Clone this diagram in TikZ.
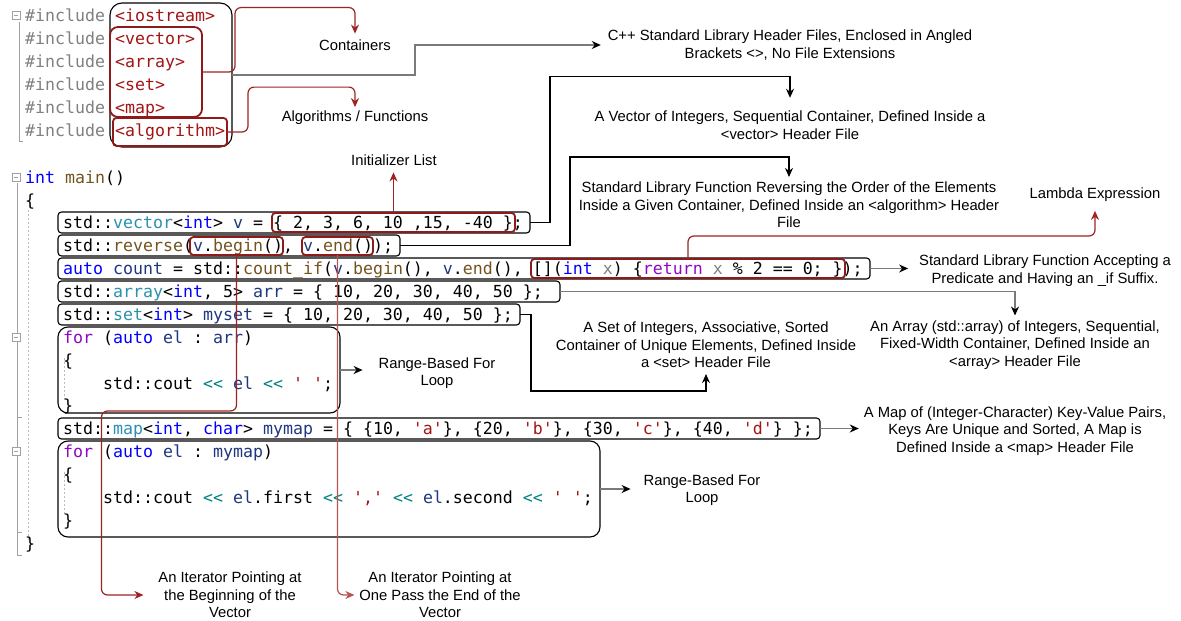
\documentclass[tikz,border=0pt]{standalone}
\usepackage{fontspec}
\setmonofont{DejaVu Sans Mono}
\newfontfamily\notefont{Liberation Sans}
\usepackage{xcolor}
\usetikzlibrary{arrows.meta, positioning, calc}
\definecolor{cpptype}{HTML}{2B91AF}
\definecolor{cppkw}{HTML}{0000FF}
\definecolor{cppctl}{HTML}{8F08C4}
\definecolor{cppfn}{HTML}{74531F}
\definecolor{cppvar}{HTML}{1F377F}
\definecolor{cpppar}{HTML}{808080}
\definecolor{cppstr}{HTML}{A31515}
\definecolor{cppop}{HTML}{008080}
\definecolor{cppmac}{HTML}{808080}
\definecolor{boxred}{HTML}{8E1A1A}
\definecolor{linkred}{HTML}{9E2424}
\definecolor{linkpink}{HTML}{B85450}
\definecolor{linkgray}{HTML}{7A7A7A}
\definecolor{guttergray}{HTML}{A0A0A0}
\newcommand{\tyc}[1]{\textcolor{cpptype}{#1}}
\newcommand{\kwc}[1]{\textcolor{cppkw}{#1}}
\newcommand{\ctl}[1]{\textcolor{cppctl}{#1}}
\newcommand{\fnc}[1]{\textcolor{cppfn}{#1}}
\newcommand{\vrc}[1]{\textcolor{cppvar}{#1}}
\newcommand{\prc}[1]{\textcolor{cpppar}{#1}}
\newcommand{\strc}[1]{\textcolor{cppstr}{#1}}
\newcommand{\opc}[1]{\textcolor{cppop}{#1}}

\begin{document}
\begin{tikzpicture}[x=1pt, y=-1pt,
    code/.style={anchor=base west, inner sep=0, font=\ttfamily\fontsize{16.6}{20}\selectfont},
    codebox/.style={draw=black, line width=1.1, rounded corners=3.5, inner sep=0, outer sep=0, anchor=north west},
    blockbox/.style={codebox, rounded corners=10},
    redbox/.style={draw=boxred, line width=1.8, rounded corners=3.5, inner sep=0, outer sep=0, anchor=north west},
    note/.style={font=\notefont\fontsize{14.8}{17.6}\selectfont, align=center, inner sep=0, outer sep=0},
    link/.style={draw=black, line width=1.1, -{Stealth[length=9pt, width=8pt]}},
    glink/.style={draw=linkgray, line width=1.8, -{Stealth[length=9pt, width=8pt, color=black]}},
    rlink/.style={draw=linkred, line width=1.2, rounded corners=6, -{Stealth[length=9pt, width=8pt]}},
    gutter/.style={draw=guttergray, line width=0.8},
    guide/.style={draw=guttergray!70, line width=0.7, dash pattern=on 2pt off 2pt},
]
\fill[white] (0,0) rectangle (1181,621);
\useasboundingbox (0,0) rectangle (1181,621);

% Editor gutter: fold lines, indent guides, fold markers
\draw[gutter] (19,22) -- (19,141) -- (23,141);
\draw[gutter] (17,183) -- (17,555) -- (22,555);
\draw[gutter] (17,417) -- (22,417);
\draw[gutter] (17,532) -- (22,532);
\draw[guide] (28,210) -- (28,540);
\draw[guide] (64,358) -- (64,400);
\draw[guide] (64,472) -- (64,515);
\foreach \fy in {15,177,337,451} {
    \draw[gutter, fill=white] (12,\fy-4) rectangle (20,\fy+4);
    \draw[gutter] (14,\fy) -- (18,\fy);
}

% Header includes
\foreach \hname [count=\i] in {iostream, vector, array, set, map, algorithm} {
    \node[code] (inc\i) at (25,-2+23*\i) {\textcolor{cppmac}{\#include} \textcolor{cppstr}{<\hname>}};
}
\node[codebox, rounded corners=12, minimum width=122, minimum height=144] (hdrbox) at (110,3) {};
\node[redbox, rounded corners=8, minimum width=92, minimum height=90] (contbox) at (110,27) {};
\node[redbox, minimum width=114, minimum height=28] (algbox) at (113,118) {};

% main()
\node[code] (mainline) at (25,183) {\kwc{int} \fnc{main}()};
\node[code] (mainopen) at (25,206) {\{};
\node[code] (mainclose) at (25,549) {\}};

% vector + initializer list
\node[codebox, minimum width=472, minimum height=21] (vecbox) at (58,212) {};
\node[code] (vecline) at (63,228) {std::\tyc{vector}<\kwc{int}> \vrc{v} = \{ 2, 3, 6, 10 ,15, -40 \};};
\node[redbox, minimum width=243, minimum height=19] (initbox) at (272,213) {};

% reverse with the two iterators
\node[codebox, minimum width=342, minimum height=21] (revbox) at (58,235) {};
\node[code] (revline) at (63,251) {std::\fnc{reverse}(\vrc{v}.\fnc{begin}(), \vrc{v}.\fnc{end}());};
\node[redbox, minimum width=93, minimum height=18] (begbox) at (190,237) {};
\node[redbox, minimum width=71, minimum height=18] (endbox) at (302,237) {};

% count_if + lambda
\node[codebox, minimum width=812, minimum height=21] (cntbox) at (58,258) {};
\node[code] (cntline) at (63,274) {\kwc{auto} \vrc{count} = std::\fnc{count\_if}(\vrc{v}.\fnc{begin}(), \vrc{v}.\fnc{end}(), [](\kwc{int} \prc{x}) \{\ctl{return} \prc{x} \% 2 == 0; \});};
\node[redbox, minimum width=314, minimum height=19] (lambox) at (531,259) {};

% array and set
\node[codebox, minimum width=502, minimum height=21] (arrbox) at (58,281) {};
\node[code] (arrline) at (63,297) {std::\tyc{array}<\kwc{int}, 5> \vrc{arr} = \{ 10, 20, 30, 40, 50 \};};
\node[codebox, minimum width=462, minimum height=21] (setbox) at (58,304) {};
\node[code] (setline) at (63,320) {std::\tyc{set}<\kwc{int}> \vrc{myset} = \{ 10, 20, 30, 40, 50 \};};

% first range-based for
\node[blockbox, minimum width=282, minimum height=86] (for1box) at (58,327) {};
\node[code] (for1head) at (63,343) {\ctl{for} (\kwc{auto} \vrc{el} : \vrc{arr})};
\node[code] (for1open) at (63,366) {\{};
\node[code] (for1body) at (103,389) {std::cout \opc{<<} \vrc{el} \opc{<<} \strc{' '};};
\node[code] (for1close) at (63,411) {\}};

% map
\node[codebox, minimum width=762, minimum height=21] (mapbox) at (58,418) {};
\node[code] (mapline) at (63,434) {std::\tyc{map}<\kwc{int}, \kwc{char}> \vrc{mymap} = \{ \{10, \strc{'a'}\}, \{20, \strc{'b'}\}, \{30, \strc{'c'}\}, \{40, \strc{'d'}\} \};};

% second range-based for
\node[blockbox, minimum width=542, minimum height=96] (for2box) at (58,441) {};
\node[code] (for2head) at (63,457) {\ctl{for} (\kwc{auto} \vrc{el} : \vrc{mymap})};
\node[code] (for2open) at (63,480) {\{};
\node[code] (for2body) at (103,503) {std::cout \opc{<<} \vrc{el}.first \opc{<<} \strc{','} \opc{<<} \vrc{el}.second \opc{<<} \strc{' '};};
\node[code] (for2close) at (63,526) {\}};

% Annotations
\node[note] (contnote) at (355,45) {Containers};
\node[note] (algnote) at (355,118) {Algorithms / Functions};
\node[note] (hdrnote) at (790,45) {C++ Standard Library Header Files, Enclosed in Angled\\Brackets <>, No File Extensions};
\node[note] (vecnote) at (790,125) {A Vector of Integers, Sequential Container, Defined Inside a\\<vector> Header File};
\node[note] (revnote) at (789,205) {Standard Library Function Reversing the Order of the Elements\\Inside a Given Container, Defined Inside an <algorithm> Header\\File};
\node[note] (initnote) at (394,160) {Initializer List};
\node[note] (lamnote) at (1095,195) {Lambda Expression};
\node[note] (cntnote) at (1045,270.5) {Standard Library Function Accepting a\\Predicate and Having an \_if Suffix.};
\node[note] (arrnote) at (1015,345) {An Array (std::array) of Integers, Sequential,\\Fixed-Width Container, Defined Inside an\\<array> Header File};
\node[note] (setnote) at (706,345) {A Set of Integers, Associative, Sorted\\Container of Unique Elements, Defined Inside\\a <set> Header File};
\node[note] (for1note) at (437,373) {Range-Based For\\Loop};
\node[note] (mapnote) at (1015,431) {A Map of (Integer-Character) Key-Value Pairs,\\Keys Are Unique and Sorted, A Map is\\Defined Inside a <map> Header File};
\node[note] (for2note) at (702,490) {Range-Based For\\Loop};
\node[note] (begnote) at (230,595) {An Iterator Pointing at\\the Beginning of the\\Vector};
\node[note] (endnote) at (440,595) {An Iterator Pointing at\\One Pass the End of the\\Vector};

% header connectors
\draw[rlink, shorten >=6pt] (contbox.east) -- ++(33,0) |- ([yshift=32pt]contnote.north) -- (contnote.north);
\draw[rlink, shorten >=4pt] (algbox.east) -- ++(21,0) |- ([yshift=24pt]algnote.north) -- (algnote.north);
\draw[glink, shorten >=7pt] (hdrbox.east) -- ++(183,0) |- (hdrnote.west);

% statement connectors
\draw[link, shorten >=13pt] (vecbox.east) -- ++(20,0) |- ([yshift=34pt]vecnote.north) -- (vecnote.north);
\draw[link, shorten >=5pt] (revbox.east) -- ++(170,0) |- ([yshift=25pt]revnote.north) -- (revnote.north);
\draw[rlink, shorten >=7pt] (initbox.north) -- (initbox.north |- initnote.south);
\draw[rlink, shorten >=9pt] (lambox.north) -- ++(0,-23) -| (lamnote.south);
\draw[glink, shorten >=11pt] (cntbox.east) -- (cntbox.east -| cntnote.west);
\draw[glink, shorten >=5pt] (arrbox.east) -| (arrnote.north);
\draw[link, shorten >=6pt] (setbox.east) -- ++(11,0) |- ([yshift=-23pt]setnote.south) -- (setnote.south);
\draw[glink, shorten >=16pt] (for1box.east) -- (for1box.east -| for1note.west);
\draw[glink, shorten >=5pt] (mapbox.east) -- (mapbox.east -| mapnote.west);
\draw[glink, shorten >=13pt] (for2box.east) -- (for2box.east -| for2note.west);

% iterator connectors
\draw[rlink, shorten >=15pt] (begbox.south) -- ++(0,156) -- ++(-135,0) |- (begnote.west);
\draw[rlink, draw=linkpink, shorten >=5pt] (endbox.south) |- (endnote.west);

\end{tikzpicture}
\end{document}
